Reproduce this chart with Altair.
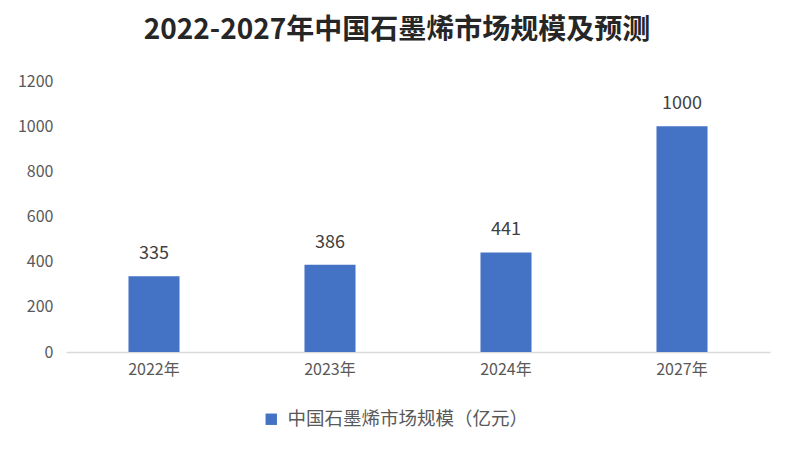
import altair as alt
import pandas as pd

years = ["2022年", "2023年", "2024年", "2027年"]
values = [335, 386, 441, 1000]
series = ["中国石墨烯市场规模（亿元）"] * 4

df = pd.DataFrame({"year": years, "value": values, "series": series})

FONT = "Noto Sans CJK SC"

base = alt.Chart(df).encode(
    x=alt.X("year:N", sort=years, title=None,
            scale=alt.Scale(paddingInner=0.71, paddingOuter=0.355),
            axis=alt.Axis(labelAngle=0, labelFontSize=16, labelColor="#595959",
                          labelFont=FONT, domainColor="#d9d9d9", domainWidth=1.5,
                          ticks=False, labelPadding=9)),
    y=alt.Y("value:Q", title=None,
            scale=alt.Scale(domain=[0, 1200]),
            axis=alt.Axis(values=[0, 200, 400, 600, 800, 1000, 1200], grid=False,
                          format="d", domain=False, ticks=False, labelFontSize=16,
                          labelColor="#595959", labelFont=FONT, labelPadding=13)),
)

bars = base.mark_bar(color="#4472C4").encode(
    color=alt.Color("series:N", scale=alt.Scale(range=["#4472C4"]),
                    legend=alt.Legend(title=None, orient="none", legendX=196, legendY=329,
                                      symbolType="square", symbolSize=130,
                                      labelFontSize=18.5, labelColor="#595959",
                                      labelLimit=400, labelOffset=7,
                                      labelFont=FONT, symbolStrokeWidth=0))
)

labels = base.mark_text(baseline="alphabetic", dy=-17, fontSize=18,
                        color="#404040", font=FONT).encode(text="value:Q")

chart = (bars + labels).properties(
    width=704, height=271,
    autosize=alt.AutoSizeParams(type="none"),
    padding={"left": 58, "top": 73, "right": 16, "bottom": 80},
    title=alt.TitleParams("2022-2027年中国石墨烯市场规模及预测", fontSize=28,
                          font=FONT, fontWeight="bold", color="#262626",
                          offset=28, dx=-21),
).configure(background="white", view=alt.ViewConfig(stroke=None))

chart.save("out.html", embed_options={"renderer": "svg", "actions": False})
